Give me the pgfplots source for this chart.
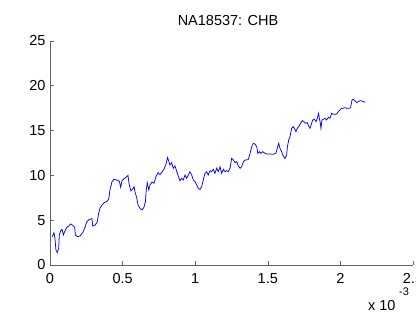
\documentclass[border=0pt]{standalone}
\usepackage{pgfplots}
\pgfplotsset{compat=1.18}
\usepackage{fontspec}
\setmainfont{Liberation Sans}
\definecolor{axisgray}{RGB}{100,100,100}
\begin{document}
\begin{tikzpicture}[x=1pt,y=1pt]
\clip (0,0) rectangle (416,323);
\useasboundingbox (0,0) rectangle (416,323);
\begin{axis}[
  at={(50pt,58pt)}, anchor=south west,
  scale only axis, width=363pt, height=224pt,
  xmin=0, xmax=2.5, ymin=0, ymax=25,
  axis x line=bottom, axis y line=left,
  axis line style={axisgray, line width=0.8pt, -},
  tick align=inside,
  major tick length=4pt,
  tick style={axisgray, line width=0.6pt},
  xtick={0,0.5,1,1.5,2,2.5},
  xticklabels={0,0.5,1,1.5,2,2.5},
  ytick={0,5,10,15,20,25},
  /pgf/number format/assume math mode=true,
  ticklabel style={font=\fontsize{14.5}{16}\selectfont, black},
  xticklabel style={yshift=-5pt},
  yticklabel style={xshift=-1pt},
  clip=false,
]
\addplot[color={rgb,255:red,0;green,0;blue,255}, line width=0.75pt] coordinates {
(0.016,3.16)(0.0275,3.61)(0.034,2.98)(0.041,1.67)(0.05,1.38)(0.06,1.86)(0.064,3.35)(0.074,3.83)(0.083,3.98)(0.092,3.35)(0.101,3.72)(0.115,4.2)(0.129,4.35)(0.142,4.58)(0.156,4.43)(0.17,4.2)(0.175,3.35)(0.188,3.16)(0.207,3.24)(0.225,3.61)(0.239,4.09)(0.253,4.83)(0.271,5.09)(0.289,5.17)(0.294,4.35)(0.312,4.46)(0.326,4.83)(0.335,5.77)(0.344,6.32)(0.358,6.7)(0.372,6.95)(0.39,7.07)(0.404,7.33)(0.413,8.37)(0.427,9.3)(0.441,9.56)(0.459,9.49)(0.478,9.34)(0.487,8.67)(0.496,9.41)(0.51,9.63)(0.523,9.78)(0.537,10.0)(0.544,9.12)(0.556,8.3)(0.569,8.45)(0.579,8.74)(0.588,7.99)(0.597,7.55)(0.606,6.7)(0.62,6.32)(0.634,6.14)(0.647,6.43)(0.657,7.07)(0.663,8.37)(0.67,9.19)(0.68,8.37)(0.689,8.93)(0.702,9.26)(0.716,9.12)(0.73,9.86)(0.744,10.3)(0.758,10.08)(0.771,10.38)(0.785,10.68)(0.799,11.27)(0.81,12.0)(0.817,11.64)(0.826,11.16)(0.838,11.42)(0.849,10.79)(0.861,11.05)(0.872,10.5)
(0.884,9.9)(0.895,9.4)(0.907,9.67)(0.918,9.49)(0.93,10.04)(0.941,9.67)(0.953,10.04)(0.964,10.42)(0.976,10.04)(0.987,9.49)(0.999,9.3)(1.01,8.93)(1.021,8.56)(1.033,8.44)(1.044,8.74)(1.056,9.49)(1.067,10.23)(1.079,10.42)(1.09,10.04)(1.102,10.53)(1.113,10.42)(1.125,10.68)(1.136,10.23)(1.148,10.8)(1.159,10.42)(1.171,10.97)(1.182,10.23)(1.194,10.68)(1.205,10.42)(1.217,10.53)(1.228,10.42)(1.24,10.8)(1.251,11.9)(1.263,11.72)(1.274,11.42)(1.286,11.53)(1.297,11.05)(1.309,10.8)(1.32,10.97)(1.332,11.53)(1.343,11.72)(1.355,11.72)(1.366,11.79)(1.378,12.46)(1.389,13.2)(1.401,13.58)(1.412,13.5)(1.424,13.2)(1.431,12.46)(1.442,12.65)(1.451,12.46)(1.465,12.65)(1.481,12.46)(1.492,12.39)(1.515,12.39)(1.538,12.35)(1.556,12.46)(1.565,13.02)(1.575,13.58)
(1.584,13.02)(1.595,12.65)(1.607,12.17)(1.618,11.9)(1.63,12.28)(1.635,13.2)(1.644,13.95)(1.653,14.32)(1.664,15.25)(1.676,15.44)(1.687,15.14)(1.694,14.88)(1.703,15.25)(1.715,15.51)(1.726,15.81)(1.738,16.11)(1.75,16.0)(1.761,15.81)(1.772,15.88)(1.784,15.44)(1.791,15.25)(1.798,15.62)(1.809,16.18)(1.821,16.26)(1.832,16.0)(1.841,16.37)(1.85,16.93)(1.855,16.37)(1.86,16.0)(1.866,15.25)(1.873,16.18)(1.882,16.26)(1.894,16.37)(1.905,16.18)(1.917,16.48)(1.928,16.37)(1.94,16.93)(1.951,16.82)(1.963,16.82)(1.974,16.86)(1.986,17.12)(1.997,17.3)(2.008,17.49)(2.02,17.49)(2.031,17.56)(2.043,17.49)(2.061,17.49)(2.07,17.56)(2.08,18.42)(2.089,18.49)(2.1,18.34)(2.112,18.12)(2.124,18.23)(2.135,18.34)(2.147,18.31)(2.158,18.23)(2.172,18.16)
};
\end{axis}
% title and axis multiplier
\node[font=\fontsize{14.5}{16}\selectfont] at (228,302) {NA18537: CHB};
\node[font=\fontsize{14.5}{16}\selectfont, anchor=base east] at (399,12) {x 10};
\node[font=\fontsize{11}{13}\selectfont, anchor=base west, inner sep=0pt] at (399,27) {-3};
\end{tikzpicture}
\end{document}
